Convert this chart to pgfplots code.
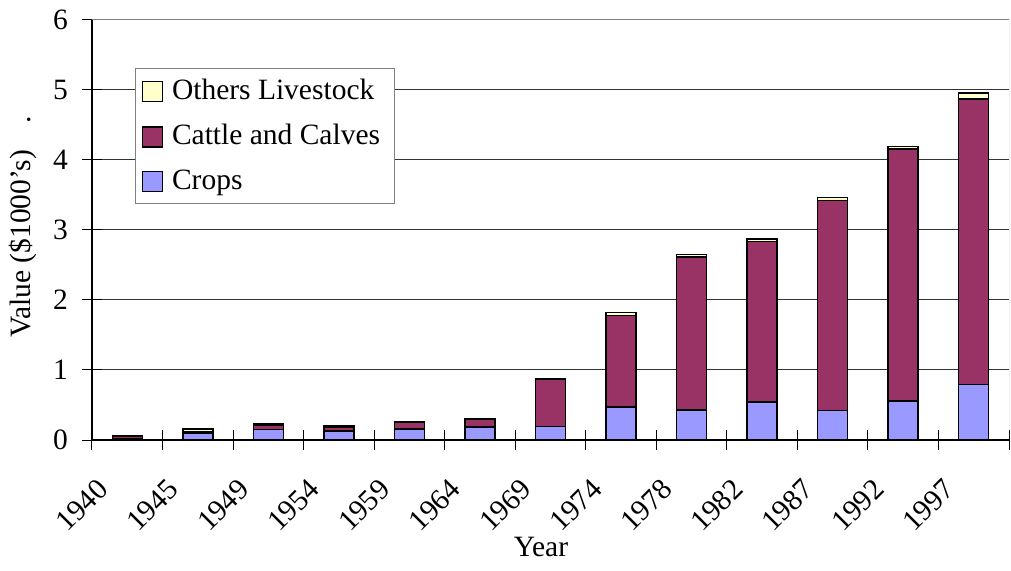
\documentclass[border=0pt]{standalone}
\usepackage{pgfplots}
\pgfplotsset{compat=1.18}
\usepackage{fontspec}
\setmainfont{Liberation Serif}
\definecolor{crops}{HTML}{9999FF}
\definecolor{cattle}{HTML}{993366}
\definecolor{others}{HTML}{FFFFCC}
\newcommand\chartfont{\fontsize{29.5bp}{35bp}\selectfont}
\begin{document}
\chartfont
\begin{tikzpicture}
\begin{axis}[
  scale only axis, width=917bp, height=420.5bp,
  at={(0,0)}, anchor=south west,
  xmin=0, xmax=13, ymin=0, ymax=6,
  ybar stacked, bar width=30bp,
  axis x line*=bottom, axis y line*=left,
  axis line style={black, line width=1.2bp},
  xtick={0,...,13},
  xticklabels={1940,1945,1949,1954,1959,1964,1969,1974,1978,1982,1987,1992,1997,{}},
  ytick={0,...,6},
  /pgf/number format/assume math mode=true,
  tick label style={font=\chartfont},
  major tick length=20bp,
  xtick align=center, ytick align=center,
  tick style={black, line width=1bp},
  xticklabel style={xshift=-10bp, yshift=-55.25bp, rotate=45, anchor=center},
  yticklabel style={inner sep=0pt, anchor=east, xshift=-14bp},
  ymajorgrids, grid style={black!80, line width=1bp},
  xlabel={Year},
  xlabel style={font=\chartfont, at={(axis description cs:0.4896,0)}, anchor=base, yshift=-116bp, inner sep=0pt},
  ylabel={Value (\$1000's)\hspace{27bp}.},
  ylabel style={font=\chartfont, at={(axis description cs:0,0.2426)}, anchor=base west, yshift=61bp, inner sep=0pt},
  reverse legend,
  legend style={font=\chartfont, at={(rel axis cs:0.0469,0.884)}, anchor=north west, draw=gray, line width=1bp, fill=white, inner xsep=6bp, inner ysep=8.4bp, row sep=16.3bp, column sep=7bp, nodes={inner sep=2bp, anchor=west}},
  legend cell align=left,
  legend image code/.code={\draw[#1, draw=black, line width=1.5bp] (0bp,-10bp) rectangle (20bp,10bp);},
]
\addplot[fill=crops, draw=black, line width=1.5bp] coordinates {
(0.5,0.02) (1.5,0.10) (2.5,0.15) (3.5,0.13) (4.5,0.16) (5.5,0.185) (6.5,0.19)
(7.5,0.47) (8.5,0.43) (9.5,0.54) (10.5,0.42) (11.5,0.56) (12.5,0.79)};
\addlegendentry{Crops}
\addplot[fill=cattle, draw=black, line width=1.5bp] coordinates {
(0.5,0.03) (1.5,0.02) (2.5,0.065) (3.5,0.055) (4.5,0.09) (5.5,0.105) (6.5,0.67)
(7.5,1.31) (8.5,2.18) (9.5,2.29) (10.5,3.0) (11.5,3.59) (12.5,4.075)};
\addlegendentry{Cattle and Calves\kern6bp\mbox{}}
\addplot[fill=others, draw=black, line width=1.5bp] coordinates {
(0.5,0.01) (1.5,0.04) (2.5,0.01) (3.5,0.015) (4.5,0.015) (5.5,0.02) (6.5,0.01)
(7.5,0.04) (8.5,0.04) (9.5,0.04) (10.5,0.04) (11.5,0.04) (12.5,0.085)};
\addlegendentry{Others Livestock}
\draw[gray, line width=1bp] (rel axis cs:0,1) -- (rel axis cs:1,1) -- (rel axis cs:1,0);
\end{axis}
\pgfresetboundingbox
\path[use as bounding box] (-92bp,-131bp) rectangle (919bp,440bp);
\end{tikzpicture}
\end{document}
